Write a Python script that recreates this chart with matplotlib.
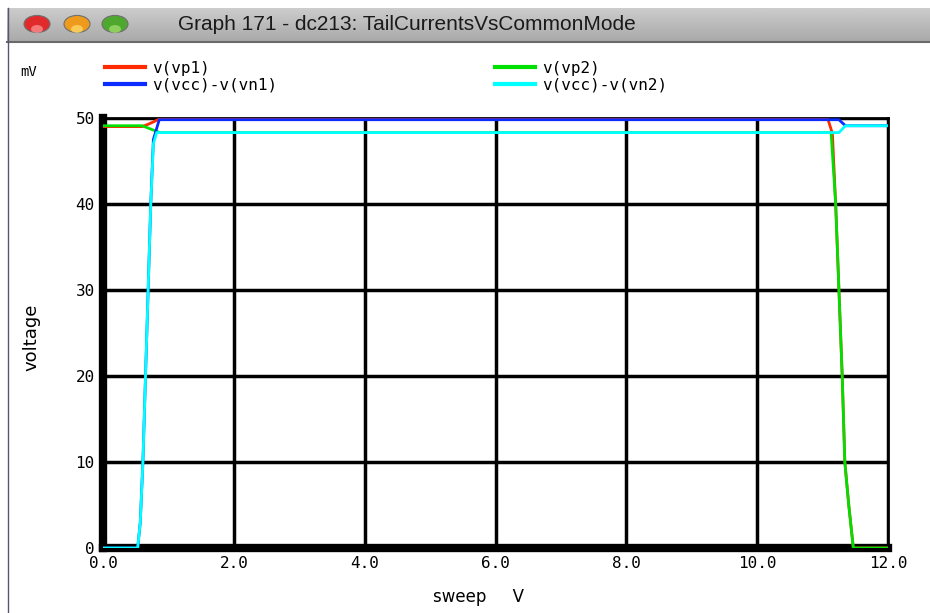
import matplotlib.pyplot as plt
from matplotlib.patches import Circle
import numpy as np

# values (sweep in V, voltages in mV)
vp1_x = [0.0, 0.60, 0.70, 0.87, 11.08, 11.15, 11.20, 11.25, 11.30, 11.34, 11.40, 11.47, 12.0]
vp1_y = [49.0, 49.0, 49.3, 49.9, 49.9, 48.2, 40.0, 30.0, 20.0, 10.0, 5.0, 0.0, 0.0]

vp2_x = [0.0, 0.60, 0.87, 11.13, 11.20, 11.25, 11.30, 11.34, 11.40, 11.47, 12.0]
vp2_y = [49.1, 49.1, 48.3, 48.3, 40.0, 30.0, 20.0, 10.0, 5.0, 0.0, 0.0]

vn1_x = [0.0, 0.53, 0.57, 0.61, 0.65, 0.69, 0.73, 0.77, 0.86, 11.25, 11.35, 12.0]
vn1_y = [0.0, 0.0, 3.0, 10.0, 20.0, 30.0, 40.0, 47.5, 49.8, 49.8, 49.1, 49.1]

vn2_x = [0.0, 0.53, 0.57, 0.61, 0.65, 0.69, 0.73, 0.77, 0.82, 11.25, 11.35, 12.0]
vn2_y = [0.0, 0.0, 3.0, 10.0, 20.0, 30.0, 40.0, 47.0, 48.3, 48.3, 49.1, 49.1]

xticks = [0, 2, 4, 6, 8, 10, 12]
xticklabels = ['0.0', '2.0', '4.0', '6.0', '8.0', '10.0', '12.0']
yticks = [0, 10, 20, 30, 40, 50]

W, H = 930, 613
fig = plt.figure(figsize=(W / 100, H / 100), dpi=100)
fig.patch.set_facecolor('white')

def fx(px):
    return px / W

def fy(py):
    return 1 - py / H

# window title bar
bar = fig.add_axes([fx(7), fy(42), fx(923), (42 - 8) / H])
grad = np.linspace(0.80, 0.66, 50).reshape(-1, 1)
bar.imshow(grad, cmap='gray', vmin=0, vmax=1, aspect='auto', extent=[0, 1, 0, 1])
bar.set_xlim(0, 1)
bar.set_ylim(0, 1)
bar.axis('off')
fig.add_artist(plt.Line2D([fx(7), 1], [fy(42), fy(42)], color='#6a6a6a', lw=1.5))
fig.add_artist(plt.Line2D([fx(7.5), fx(7.5)], [0, fy(8)], color='#555577', lw=1))
for cx, col, hi in [(37, '#e02a2c', '#ff9a9a'), (77, '#ee9a1c', '#ffe070'),
                    (115, '#4fa82e', '#a8e070')]:
    fig.add_artist(Circle((fx(cx), fy(24)), 13 / W, transform=fig.transFigure,
                          facecolor=col, edgecolor='#707070', lw=0.8))
    fig.add_artist(Circle((fx(cx), fy(29)), 6 / W, transform=fig.transFigure,
                          facecolor=hi, edgecolor='none', alpha=0.7))
fig.text(fx(178), fy(24), 'Graph 171 - dc213: TailCurrentsVsCommonMode',
         fontsize=15, family='Liberation Sans', va='center', ha='left', color='#1a1a1a')

# plot area
ax = fig.add_axes([fx(103), fy(548), fx(888 - 103), (548 - 118) / H])
ax.plot(vp1_x, vp1_y, color='#ff2a00', lw=2.0, zorder=3)
ax.plot(vp2_x, vp2_y, color='#00e000', lw=2.0, zorder=4)
ax.plot(vn1_x, vn1_y, color='#0a2cff', lw=2.0, zorder=5)
ax.plot(vn2_x, vn2_y, color='#00ffff', lw=2.0, zorder=6)

ax.set_xlim(0, 12)
ax.set_ylim(0, 50)
ax.set_xticks(xticks)
ax.set_xticklabels(xticklabels)
ax.set_yticks(yticks)
ax.grid(True, color='black', lw=2.5)
ax.set_axisbelow(True)
ax.tick_params(length=0, labelsize=11.5, pad=6)
for lab in ax.get_xticklabels() + ax.get_yticklabels():
    lab.set_family('DejaVu Sans Mono')
for side in ['top', 'right']:
    ax.spines[side].set_linewidth(2.0)
for side in ['left', 'bottom']:
    ax.spines[side].set_linewidth(6.0)

ax.set_xlabel('sweep     V', fontsize=12, family='DejaVu Sans')
ax.xaxis.set_label_coords(0.478, -0.093)
ax.set_ylabel('voltage', fontsize=13, family='DejaVu Sans')
ax.yaxis.set_label_coords(-0.080, 0.49)

# legend, drawn like the simulator does it
fig.text(fx(20), fy(72), 'mV', fontsize=10, family='DejaVu Sans Mono', va='center')
legend = [('v(vp1)', '#ff2a00', 105, 67), ('v(vcc)-v(vn1)', '#0a2cff', 105, 84),
          ('v(vp2)', '#00e000', 495, 67), ('v(vcc)-v(vn2)', '#00ffff', 495, 84)]
for name, col, lx, ly in legend:
    fig.add_artist(plt.Line2D([fx(lx), fx(lx + 40)], [fy(ly), fy(ly)], color=col, lw=3))
    fig.text(fx(lx + 47), fy(ly + 1.5), name, fontsize=11.5, family='DejaVu Sans Mono',
             va='center', ha='left')

fig.savefig('out.png', dpi=100)
